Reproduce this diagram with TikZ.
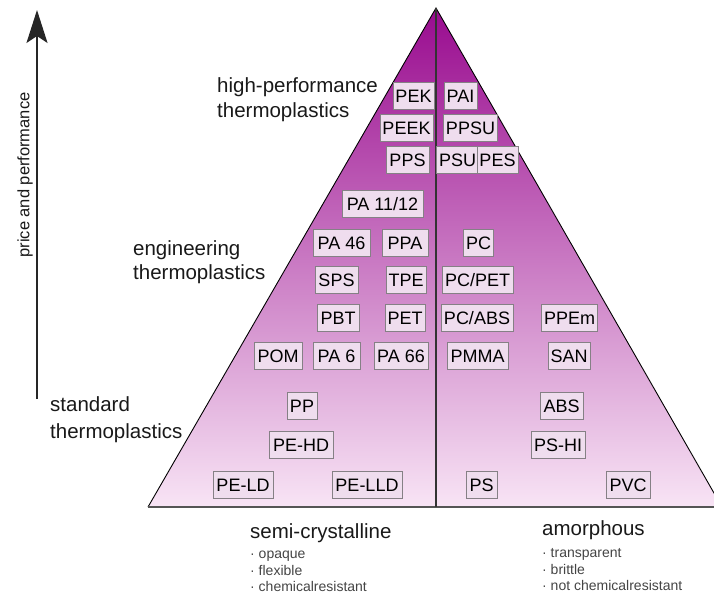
\documentclass[tikz,border=0pt]{standalone}
\usepackage{fontspec}
\setmainfont{Liberation Sans}
\usetikzlibrary{arrows.meta}

\definecolor{pyrtop}{HTML}{990B8F}
\definecolor{pyrbot}{HTML}{F8E4F5}
\definecolor{boxfill}{HTML}{EFDDEE}
\definecolor{boxline}{HTML}{858085}
\definecolor{notegray}{HTML}{444444}
\definecolor{baseclr}{HTML}{555555}

\tikzset{
  matbox/.style={draw=boxline, line width=0.9pt, fill=boxfill,
    font=\fontsize{18}{18}\selectfont, text height=13pt, text depth=0pt,
    inner xsep=2.5pt, inner ysep=7pt, minimum height=27pt},
  classlabel/.style={anchor=base west, inner sep=0pt,
    font=\fontsize{20.5}{24}\selectfont, text=black!90},
  notelabel/.style={anchor=base west, inner sep=0pt,
    font=\fontsize{14}{16}\selectfont, text=notegray},
  edgeline/.style={line width=0.9pt, black},
}

\begin{document}
\begin{tikzpicture}[x=1pt, y=-1pt]
\useasboundingbox (0,0) rectangle (714,597);

% pyramid corners
\coordinate (apex)  at (436,8);
\coordinate (left)  at (148,507);
\coordinate (right) at (722,507);
\coordinate (divtop) at (436,8);
\coordinate (divbot) at (436,507);

\begin{scope}
  \clip (0,0) rectangle (714,597);
  \shade[top color=pyrtop, bottom color=pyrbot] (apex) -- (left) -- (right) -- cycle;
  \draw[edgeline] (left) -- (apex) -- (right);
  \draw[line width=1.8pt, baseclr] (left) -- (right);
  \draw[line width=1.3pt, black!80] (divtop) -- (divbot);
\end{scope}

% price / performance axis
\coordinate (axisbot) at (37,399);
\coordinate (axistop) at (37,10);
\draw[line width=2pt, black!85, -{Stealth[length=33pt, width=21pt, inset=7pt]}] (axisbot) -- (axistop);
\node[rotate=90, font=\fontsize{16.5}{16.5}\selectfont, text=black!90] (axislabel) at (25,175) {price and performance};

% class labels
\node[classlabel] (hp1) at (217,92) {high-performance};
\node[classlabel] (hp2) at (217,117) {thermoplastics};
\node[classlabel] (en1) at (133,255) {engineering};
\node[classlabel] (en2) at (133,279) {thermoplastics};
\node[classlabel] (st1) at (50,411) {standard};
\node[classlabel] (st2) at (50,438) {thermoplastics};

% semi-crystalline materials
\node[matbox, minimum width=39pt] (pek)   at (413.5,96)  {PEK};
\node[matbox, minimum width=53pt] (peek)  at (406.5,128) {PEEK};
\node[matbox, minimum width=43pt] (pps)   at (407.5,159.5) {PPS};
\node[matbox, minimum width=81pt] (pa1112) at (382.5,204) {PA 11/12};
\node[matbox, minimum width=57pt] (pa46)  at (341.5,242.5) {PA 46};
\node[matbox, minimum width=46pt] (ppa)   at (405,242.5) {PPA};
\node[matbox, minimum width=43pt] (sps)   at (336.5,279.5) {SPS};
\node[matbox, minimum width=40pt] (tpe)   at (406,279.5) {TPE};
\node[matbox, minimum width=42pt] (pbt)   at (338,318) {PBT};
\node[matbox, minimum width=40pt] (pet)   at (405,318) {PET};
\node[matbox, minimum width=48pt] (pom)   at (278,356) {POM};
\node[matbox, minimum width=47pt] (pa6)   at (336.5,356) {PA 6};
\node[matbox, minimum width=54pt] (pa66)  at (401,356) {PA 66};
\node[matbox, minimum width=30pt] (pp)    at (302,406) {PP};
\node[matbox, minimum width=64pt] (pehd)  at (301,445) {PE-HD};
\node[matbox, minimum width=60pt] (peld)  at (243,485) {PE-LD};
\node[matbox, minimum width=70pt] (pelld) at (367,485) {PE-LLD};

% amorphous materials
\node[matbox, minimum width=33pt] (pai)   at (460.5,96)  {PAI};
\node[matbox, minimum width=53pt] (ppsu)  at (470.5,128) {PPSU};
\node[matbox, minimum width=39pt] (psu)   at (457.5,159.5) {PSU};
\node[matbox, minimum width=37pt] (pes)   at (497.5,159.5) {PES};
\node[matbox, minimum width=29pt] (pc)    at (478.5,242.5) {PC};
\node[matbox, minimum width=71pt] (pcpet) at (477.5,279.5) {PC/PET};
\node[matbox, minimum width=72pt] (pcabs) at (477,318) {PC/ABS};
\node[matbox, minimum width=55pt] (ppem)  at (569.5,318) {PPEm};
\node[matbox, minimum width=61pt] (pmma)  at (477.5,356) {PMMA};
\node[matbox, minimum width=42pt] (san)   at (569,356) {SAN};
\node[matbox, minimum width=43pt] (abs)   at (561.5,406) {ABS};
\node[matbox, minimum width=54pt] (pshi)  at (558,445) {PS-HI};
\node[matbox, minimum width=31pt] (ps)    at (481.5,485) {PS};
\node[matbox, minimum width=44pt] (pvc)   at (628,485) {PVC};

% structure classes below the base
\node[classlabel] (semi) at (250,538) {semi-crystalline};
\node[notelabel] (semi1) at (250,558) {· opaque};
\node[notelabel] (semi2) at (250,575) {· flexible};
\node[notelabel] (semi3) at (250,591) {· chemicalresistant};

\node[classlabel] (amor) at (542,535) {amorphous};
\node[notelabel] (amor1) at (542,557) {· transparent};
\node[notelabel] (amor2) at (542,574) {· brittle};
\node[notelabel] (amor3) at (542,590) {· not chemicalresistant};
\end{tikzpicture}
\end{document}
